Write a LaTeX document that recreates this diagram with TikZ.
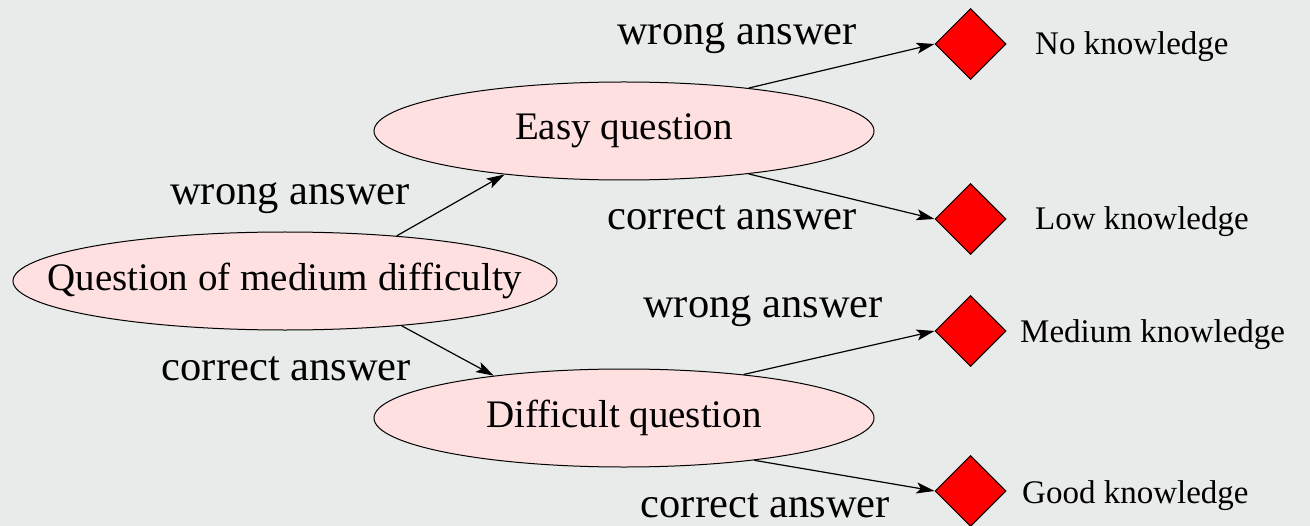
\documentclass[tikz,border=0pt]{standalone}
\usepackage{fontspec}
\setmainfont{Liberation Serif}
\usepackage{tikz}
\usetikzlibrary{shapes.geometric,arrows.meta,positioning}
\definecolor{paper}{RGB}{233,235,235}
\definecolor{qpink}{RGB}{255,224,224}

\begin{document}
\begin{tikzpicture}[x=1bp,y=-1bp]
  \tikzset{
    qnode/.style={ellipse, draw=black, fill=qpink, line width=1bp, inner sep=0pt, minimum height=98bp},
    qtext/.style={font=\fontsize{39bp}{47bp}\selectfont, inner sep=0pt},
    leaf/.style={diamond, draw=black, fill=red, line width=1bp, minimum width=71bp, minimum height=71bp, inner sep=0pt},
    klab/.style={font=\fontsize{33bp}{40bp}\selectfont, inner sep=0pt, anchor=base west},
    elab/.style={font=\fontsize{42.5bp}{50bp}\selectfont, inner sep=0pt, anchor=base east},
    arr/.style={-{Stealth[length=18bp,width=11bp,inset=4bp]}, line width=1.2bp}
  }

  % - Paper ---
  \fill[paper] (0,0) rectangle (1310,526);
  \useasboundingbox (0,0) rectangle (1310,526);

  % - Questions ---
  \node[qnode, minimum width=544bp, label={[qtext]center:Question of medium difficulty}] (med) at (285,281) {};
  \node[qnode, minimum width=500bp, label={[qtext]center:Easy question}] (easy) at (624,131) {};
  \node[qnode, minimum width=500bp, label={[qtext]center:Difficult question}] (diff) at (624,418) {};

  % - Outcomes ---
  \node[leaf] (kNo) at (970.5,44) {};
  \node[leaf] (kLow) at (970.5,219) {};
  \node[leaf] (kMed) at (970.5,331) {};
  \node[leaf] (kGood) at (970.5,491) {};

  \node[klab] (tNo) at (1035,55) {No knowledge};
  \node[klab] (tLow) at (1035,230) {Low knowledge};
  \node[klab] (tMed) at (1020,342) {Medium knowledge};
  \node[klab] (tGood) at (1022,503) {Good knowledge};

  % - Answers ---
  \node[elab] (aMedW) at (410,205) {wrong answer};
  \node[elab] (aMedC) at (411,380) {correct answer};
  \node[elab] (aEasyW) at (857,45) {wrong answer};
  \node[elab] (aEasyC) at (857,230) {correct answer};
  \node[elab] (aDiffW) at (883,317) {wrong answer};
  \node[elab] (aDiffC) at (890,517) {correct answer};

  % - Arrows ---
  \draw[arr] (med.22) -- (easy.200);
  \draw[arr] (med.-21) -- (diff.162);
  \draw[arr] (easy.19) -- (kNo.west);
  \draw[arr] (easy.-19) -- (kLow.west);
  \draw[arr] (diff.20) -- (kMed.west);
  \draw[arr] (diff.-18) -- (kGood.west);

\end{tikzpicture}
\end{document}
